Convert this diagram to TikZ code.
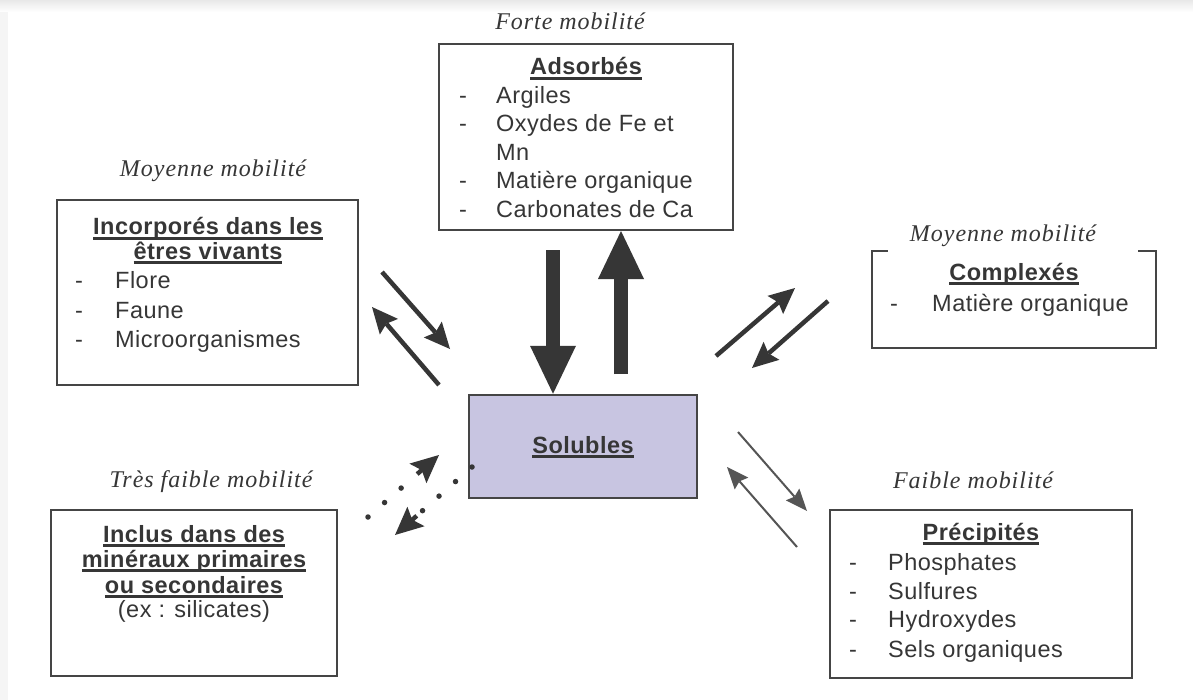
\documentclass[tikz,border=0pt]{standalone}
\usepackage{fontspec}
\setmainfont{Liberation Sans}
\newfontfamily\bodyf[LetterSpace=2]{Liberation Sans}
\newfontfamily\labf[LetterSpace=4]{Liberation Serif}
\usetikzlibrary{arrows.meta,calc}
\definecolor{ink}{HTML}{363636}
\definecolor{edge}{HTML}{454545}
\definecolor{solfill}{HTML}{C8C5E1}
\definecolor{thinc}{HTML}{555555}
\newcommand\hdl[1]{\setbox0\hbox{#1}\leavevmode\rlap{\rule[-5bp]{\wd0}{3bp}}\box0}
\tikzset{
 boxn/.style={draw=edge, line width=2bp, inner sep=0pt, rectangle},
 lab/.style={font=\labf\itshape\fontsize{24bp}{28bp}\selectfont, text=ink, anchor=base, inner sep=0pt},
 item/.style={font=\bodyf\fontsize{23.5bp}{28bp}\selectfont, text=ink, anchor=base west, inner sep=0pt},
 head/.style={font=\bodyf\bfseries\fontsize{23.5bp}{28bp}\selectfont, text=ink, anchor=base, inner sep=0pt},
 note/.style={font=\bodyf\fontsize{23.5bp}{28bp}\selectfont, text=ink, anchor=base, inner sep=0pt},
 bigarrow/.style={draw=ink, line width=14bp, -{Triangle[length=48bp,width=46bp,line width=0bp]}},
 midarrow/.style={draw=ink, line width=4.5bp, -{Stealth[length=26bp,width=24bp,inset=4bp,line width=0bp]}},
 thinarrow/.style={draw=thinc, line width=2bp, -{Stealth[length=22bp,width=18bp,inset=3bp,line width=0bp]}},
 dotline/.style={draw=ink, line width=5.5bp, line cap=round, dash pattern=on 0bp off 22bp},
 dothead/.style={draw=ink, line width=4.5bp, -{Stealth[length=28bp,width=26bp,inset=5bp,line width=0bp]}},
}
\begin{document}
\begin{tikzpicture}[x=1bp,y=-1bp]
\useasboundingbox (0,0) rectangle (1193,700);
\fill[gray!8] (0,0) rectangle (1193,700);
\shade[top color=gray!18, bottom color=white] (0,0) rectangle (1193,12);
\fill[white] (8,12) rectangle (1193,700);

% boxes
\node[boxn, minimum width=294bp, minimum height=186bp] (adsorb) at (586,137) {};
\node[boxn, minimum width=301bp, minimum height=185bp] (incorp) at (207.5,292.5) {};
\node[inner sep=0pt, minimum width=284bp, minimum height=97bp] (cplx) at (1014,299.5) {};
\draw[draw=edge, line width=2bp] ([xshift=16bp]cplx.north west) -- (cplx.north west) -- (cplx.south west) -- (cplx.south east) -- (cplx.north east) -- ([xshift=-18bp]cplx.north east);
\node[boxn, fill=solfill, line width=2.5bp, minimum width=228bp, minimum height=103bp] (solub) at (583,446.5) {};
\node[boxn, minimum width=286bp, minimum height=166bp] (inclus) at (194,593) {};
\node[boxn, minimum width=302bp, minimum height=168bp] (precip) at (981,594) {};

% mobility labels
\node[lab] (l1) at (570,30) {Forte mobilité};
\node[lab] (l2) at (213,177) {Moyenne mobilité};
\node[lab] (l3) at (1003,241) {Moyenne mobilité};
\node[lab] (l4) at (211,487) {Très faible mobilité};
\node[lab] (l5) at (973,488) {Faible mobilité};

% Adsorbés
\node[head] (h1) at (586,75) {\hdl{Adsorbés}};
\foreach \y/\d/\t [count=\i] in {104/-/Argiles, 132/-/Oxydes de Fe et, 161//Mn, 189/-/Matière organique, 218/-/Carbonates de Ca}{
  \node[item] (ad\i) at (459,\y) {\d};
  \node[item] (at\i) at (496,\y) {\t};
}
% Incorporés
\node[head] (h2a) at (208,235) {\hdl{Incorporés dans les}};
\node[head] (h2b) at (208,259) {\hdl{êtres vivants}};
\foreach \y/\t [count=\i] in {288/Flore, 318/Faune, 347/Microorganismes}{
  \node[item] (id\i) at (75,\y) {-};
  \node[item] (it\i) at (115,\y) {\t};
}
% Complexés
\node[head] (h3) at (1014,280) {\hdl{Complexés}};
\node[item] (cd1) at (890,311) {-};
\node[item] (ct1) at (932,311) {Matière organique};
% Solubles
\node[head] (h4) at (583,453) {\hdl{Solubles}};
% Inclus
\node[head] (h5a) at (194,542) {\hdl{Inclus dans des}};
\node[head] (h5b) at (194,567) {\hdl{minéraux primaires}};
\node[head] (h5c) at (194,593) {\hdl{ou secondaires}};
\node[note] (h5d) at (194,617) {(ex : silicates)};
% Précipités
\node[head] (h6) at (981,540) {\hdl{Précipités}};
\foreach \y/\t [count=\i] in {570/Phosphates, 599/Sulfures, 627/Hydroxydes, 657/Sels organiques}{
  \node[item] (pd\i) at (849,\y) {-};
  \node[item] (pt\i) at (888,\y) {\t};
}

% arrow end points
\coordinate (dA) at (553,250);
\coordinate (uA) at (621,374);
\coordinate (i1s) at (382,272); \coordinate (i1e) at (450,349);
\coordinate (i2s) at (439,385); \coordinate (i2e) at (372,307);
\coordinate (c1s) at (716,356); \coordinate (c1e) at (795,288);
\coordinate (c2s) at (828,301); \coordinate (c2e) at (752,368);
\coordinate (p1s) at (738,432); \coordinate (p1e) at (807,511);
\coordinate (p2s) at (797,547); \coordinate (p2e) at (727,467);
\coordinate (n1s) at (368,517); \coordinate (n1e) at (439,455);
\coordinate (n2s) at (472,467); \coordinate (n2e) at (395,535);

\draw[bigarrow] (dA) -- (dA |- solub.north);
\draw[bigarrow] (uA) -- (uA |- adsorb.south);
\draw[midarrow] (i1s) -- (i1e);
\draw[midarrow] (i2s) -- (i2e);
\draw[midarrow] (c1s) -- (c1e);
\draw[midarrow] (c2s) -- (c2e);
\draw[thinarrow] (p1s) -- (p1e);
\draw[thinarrow] (p2s) -- (p2e);
\draw[dotline] (n1s) -- ($(n1e)!30bp!(n1s)$);
\draw[dothead] ($(n1e)!29bp!(n1s)$) -- (n1e);
\draw[dotline] (n2s) -- ($(n2e)!30bp!(n2s)$);
\draw[dothead] ($(n2e)!29bp!(n2s)$) -- (n2e);
\end{tikzpicture}
\end{document}
